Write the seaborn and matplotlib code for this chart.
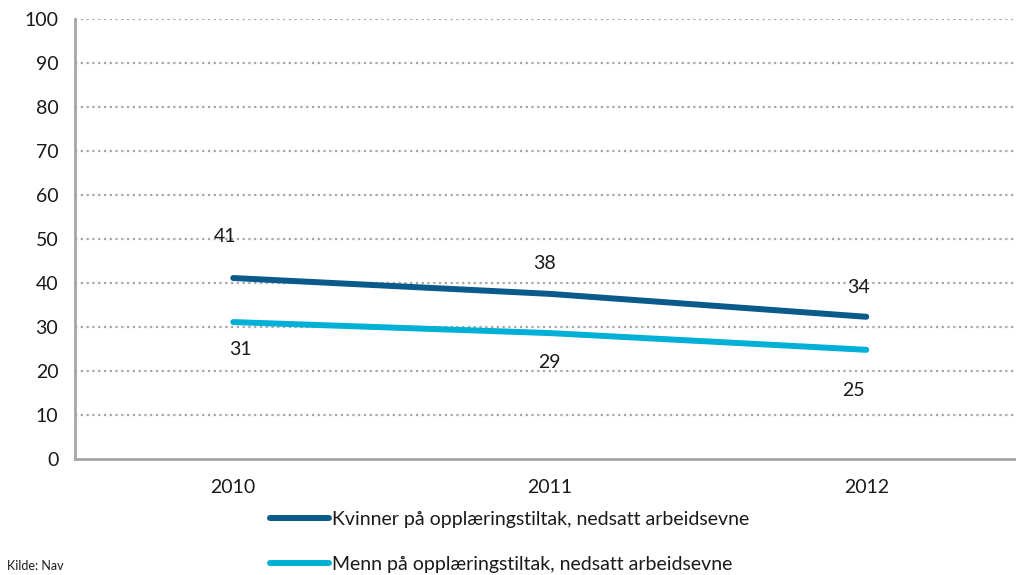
import pandas as pd
import seaborn as sns
import matplotlib.pyplot as plt

years = ["2010", "2011", "2012"]
kvinner = [41.2, 37.6, 32.4]
menn = [31.2, 28.7, 24.9]
kvinner_labels = ["41", "38", "34"]
menn_labels = ["31", "29", "25"]
series_names = ["Kvinner på opplæringstiltak, nedsatt arbeidsevne",
                "Menn på opplæringstiltak, nedsatt arbeidsevne"]
y_ticks = [0, 10, 20, 30, 40, 50, 60, 70, 80, 90, 100]

df = pd.DataFrame({
    "year": years * 2,
    "value": kvinner + menn,
    "series": [series_names[0]] * 3 + [series_names[1]] * 3,
})

sns.set_style("white")
plt.rcParams["font.family"] = ["Lato", "DejaVu Sans"]
plt.rcParams["font.size"] = 14
plt.rcParams["text.color"] = "#1a1a1a"
plt.rcParams["xtick.labelcolor"] = "#1a1a1a"
plt.rcParams["ytick.labelcolor"] = "#1a1a1a"

fig = plt.figure(figsize=(10.16, 5.75), dpi=100)
ax = fig.add_axes([0.0738, 0.2009, 0.9346, 0.766])

colors = {series_names[0]: "#0a5a8c", series_names[1]: "#00b0d6"}
sns.lineplot(data=df, x="year", y="value", hue="series", palette=colors,
             linewidth=4.3, ax=ax, legend=False, sort=False)
for line in ax.lines:
    line.set_solid_capstyle("round")

ax.set_xlim(-0.5, 2.5)
ax.set_ylim(0, 100)
ax.set_yticks(y_ticks)
ax.set_xticks(range(len(years)))
ax.set_xticklabels(years)
ax.set_xticks([-0.5, 0.5, 1.5, 2.5], minor=True)
ax.tick_params(axis="x", which="major", length=0, pad=14, labelsize=14)
ax.tick_params(axis="x", which="minor", length=5, width=1.5, color="#a6a6a6")
ax.tick_params(axis="y", length=6, width=1.5, color="#a6a6a6", labelsize=14, pad=6)
ax.set_xlabel("")
ax.set_ylabel("")

for t in y_ticks[1:]:
    ax.axhline(t, color="#a6a6a6", linestyle=(0, (1, 1.6)), linewidth=1.6, zorder=0)

for side in ["top", "right"]:
    ax.spines[side].set_visible(False)
for side in ["left", "bottom"]:
    ax.spines[side].set_color("#a6a6a6")
    ax.spines[side].set_linewidth(2)

# data labels, offsets in points
k_off = [(-6, 30), (-4, 22), (-6, 21)]
m_off = [(5, -20), (0, -21), (-9, -29)]
for i in range(len(years)):
    ax.annotate(kvinner_labels[i], (i, kvinner[i]), xytext=k_off[i],
                textcoords="offset points", ha="center", va="center",
                fontsize=14)
    ax.annotate(menn_labels[i], (i, menn[i]), xytext=m_off[i],
                textcoords="offset points", ha="center", va="center",
                fontsize=14)

handles = [plt.Line2D([], [], color=colors[s], linewidth=4.3,
                      solid_capstyle="round") for s in series_names]
fig.legend(handles, series_names, loc="upper left",
           bbox_to_anchor=(0.266, 0.112), frameon=False, fontsize=14,
           handlelength=3.0, handletextpad=0.15, labelspacing=1.45,
           borderpad=0, borderaxespad=0)

fig.text(0.007, 0.008, "Kilde: Nav", fontsize=9)

fig.savefig("out.png", dpi=100)
